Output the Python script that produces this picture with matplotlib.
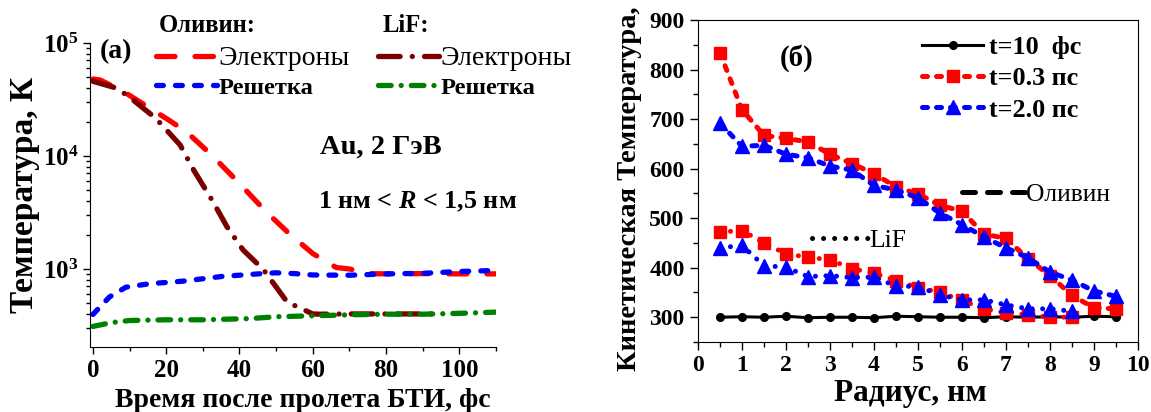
import numpy as np
import matplotlib
matplotlib.use('Agg')
import matplotlib.pyplot as plt
from matplotlib.lines import Line2D
from matplotlib.ticker import MultipleLocator, LogLocator

plt.rcParams['font.family'] = ['Liberation Serif', 'DejaVu Serif']
plt.rcParams['font.weight'] = 'bold'
plt.rcParams['mathtext.fontset'] = 'custom'
plt.rcParams['mathtext.rm'] = 'Liberation Serif:bold'
plt.rcParams['mathtext.it'] = 'Liberation Serif:italic:bold'
plt.rcParams['mathtext.bf'] = 'Liberation Serif:bold'

# ---- panel (a): temperature vs time (log scale) ----
t_ol_el = [0, 2, 5, 9, 17, 20, 25.5, 32.8, 40, 47.3, 53.6, 60, 66.4, 70, 75, 80, 90, 100, 110]
T_ol_el = [48000, 47000, 42000, 36000, 24700, 21500, 16400, 9900, 5700, 3200, 2050, 1370,
           1030, 1000, 910, 905, 910, 905, 905]

t_ol_lat = [0, 4.5, 9, 15.4, 24.5, 35.4, 46.3, 50, 55, 60, 70, 80, 90, 100, 110]
T_ol_lat = [396, 565, 690, 740, 780, 860, 910, 925, 910, 885, 880, 905, 915, 950, 970]

t_lif_el = [0, 5.6, 9.2, 16, 18.4, 23.8, 27.5, 32.5, 36.6, 41, 46.5, 53, 60, 62, 70, 80, 95]
T_lif_el = [45800, 40600, 34800, 23100, 19500, 12500, 7500, 4070, 2360, 1470, 990, 510,
            400, 398, 400, 400, 400]

t_lif_lat = [0, 5, 10, 20, 30, 43, 50, 60, 70, 80, 90, 100, 110]
T_lif_lat = [310, 335, 350, 355, 355, 364, 378, 385, 393, 398, 398, 405, 415]

# ---- panel (б): kinetic temperature vs radius ----
r_all = np.arange(0.5, 10.0, 0.5)
r_lif = np.arange(0.5, 9.0, 0.5)

T_10fs = [300, 301, 300, 302, 299, 300, 300, 299, 302, 301, 300, 300, 299, 301, 300, 301,
          300, 302, 301]
T_ol_03 = [834, 719, 667, 661, 654, 629, 610, 590, 563, 549, 526, 514, 468, 459, 418, 384,
           344, 319, 317]
T_ol_20 = [692, 645, 647, 629, 622, 605, 597, 566, 557, 541, 510, 487, 462, 440, 420, 391,
           375, 353, 342]
T_lif_03 = [472, 475, 450, 428, 421, 416, 398, 389, 374, 360, 350, 334, 317, 309, 305, 300, 300]
T_lif_20 = [440, 445, 404, 401, 382, 384, 380, 381, 363, 362, 345, 335, 335, 325, 317, 317, 312]

fig = plt.figure(figsize=(11.51, 4.12), dpi=100)
ax1 = fig.add_axes([0.0782, 0.1578, 0.3527, 0.7379])
ax2 = fig.add_axes([0.6064, 0.1699, 0.3823, 0.7816])

lw = 3.8
l_ol_el, = ax1.plot(t_ol_el, T_ol_el, color='#ff0000', lw=lw, dashes=(3.5, 3.8), dash_capstyle='round')
l_ol_lat, = ax1.plot(t_ol_lat, T_ol_lat, color='#0000ff', lw=lw, dashes=(1.3, 2.3), dash_capstyle='round')
l_lif_el, = ax1.plot(t_lif_el, T_lif_el, color='#7b0000', lw=lw, dashes=(4.1, 2.3, 0.01, 2.3),
                     dash_capstyle='round')
l_lif_lat, = ax1.plot(t_lif_lat, T_lif_lat, color='#008000', lw=lw, dashes=(2.4, 1.9, 0.01, 1.9),
                      dash_capstyle='round')

ax1.set_yscale('log')
ax1.set_ylim(204, 1e5)
ax1.set_xlim(-0.8, 110)
ax1.xaxis.set_major_locator(MultipleLocator(20))
ax1.xaxis.set_minor_locator(MultipleLocator(10))
ax1.yaxis.set_major_locator(LogLocator(base=10))
ax1.yaxis.set_minor_locator(LogLocator(base=10, subs=np.arange(2, 10)))
ax1.yaxis.set_minor_formatter(plt.NullFormatter())
ax1.spines['top'].set_visible(False)
ax1.spines['right'].set_visible(False)
ax1.tick_params(which='major', direction='out', length=5, width=1, labelsize=18)
ax1.tick_params(which='minor', direction='out', length=3, width=1)
ax1.set_xlabel('Время после пролета БТИ, фс', fontsize=20, fontweight='bold')
ax1.xaxis.set_label_coords(0.525, -0.135)
ax1.set_ylabel('Температура, К', fontsize=24, fontweight='bold')
ax1.yaxis.set_label_coords(-0.123, 0.5)

ax1.text(0.025, 0.97, '(a)', transform=ax1.transAxes, fontsize=20, fontweight='bold', va='center')
ax1.text(0.567, 0.658, 'Au, 2 ГэВ', transform=ax1.transAxes, fontsize=20.5, fontweight='bold',
         va='center')
ax1.text(0.561, 0.477, '1 нм < $R$ < 1,5 нм', transform=ax1.transAxes, fontsize=18.8,
         fontweight='bold', va='center')
ax1.text(0.170, 1.059, 'Оливин:', transform=ax1.transAxes, fontsize=17.7, fontweight='bold',
         va='center')
ax1.text(0.722, 1.059, 'LiF:', transform=ax1.transAxes, fontsize=17.7, fontweight='bold',
         va='center')


def material_legend(ax, handles, x):
    leg = ax.legend(handles, ['Электроны', 'Решетка'], loc='upper left',
                    bbox_to_anchor=(x, 0.99), frameon=False, fontsize=20,
                    handlelength=2.2, handletextpad=0.05, labelspacing=0.12,
                    borderpad=0, borderaxespad=0)
    leg.get_texts()[0].set_fontweight('normal')
    leg.get_texts()[1].set_fontsize(17.6)
    return leg


leg_ol = material_legend(ax1, [l_ol_el, l_ol_lat], 0.1626)
ax1.add_artist(leg_ol)
material_legend(ax1, [l_lif_el, l_lif_lat], 0.71)

# ---- panel (б) ----
ax2.plot(r_all, T_10fs, '-o', color='black', lw=2.2, ms=5.5, label='t=10  фс')
ax2.plot(r_all, T_ol_03, color='#ff0000', lw=3.6, dashes=(1.0, 1.8), dash_capstyle='round',
         marker='s', ms=8.5, label='t=0.3 пс')
ax2.plot(r_all, T_ol_20, color='#0000ff', lw=3.6, dashes=(1.0, 1.8), dash_capstyle='round',
         marker='^', ms=10, label='t=2.0 пс')
ax2.plot(r_lif, T_lif_03, color='#ff0000', lw=3.6, dashes=(0.01, 2.1), dash_capstyle='round',
         marker='s', ms=8.5)
ax2.plot(r_lif, T_lif_20, color='#0000ff', lw=3.6, dashes=(0.01, 2.1), dash_capstyle='round',
         marker='^', ms=10)

ax2.set_xlim(0, 10)
ax2.set_ylim(250, 900)
ax2.xaxis.set_major_locator(MultipleLocator(1))
ax2.xaxis.set_minor_locator(MultipleLocator(0.5))
ax2.yaxis.set_major_locator(MultipleLocator(100))
ax2.yaxis.set_minor_locator(MultipleLocator(50))
ax2.tick_params(which='major', direction='out', length=6, width=1, labelsize=17)
ax2.tick_params(which='minor', direction='out', length=3.5, width=1)
ax2.set_xlabel('Радиус, нм', fontsize=22.6, fontweight='bold')
ax2.xaxis.set_label_coords(0.482, -0.115)
ax2.set_ylabel('Кинетическая Температура,', fontsize=20.5, fontweight='bold')
ax2.yaxis.set_label_coords(-0.127, 0.475)
ax2.text(0.186, 0.882, '(б)', transform=ax2.transAxes, fontsize=20.8, fontweight='bold', va='center')

leg_t = ax2.legend(loc='upper left', bbox_to_anchor=(0.509, 0.95), frameon=False,
                   prop={'weight': 'bold', 'size': 18.8}, handlelength=2.35, handletextpad=0.2,
                   labelspacing=0.3, numpoints=1, borderpad=0, borderaxespad=0)
ax2.add_artist(leg_t)
h_ol = Line2D([], [], color='black', lw=3.6, dashes=(2.6, 2.4), dash_capstyle='round')
leg_mat = ax2.legend([h_ol], ['Оливин'], loc='center left', bbox_to_anchor=(0.6, 0.4565),
                     frameon=False, prop={'weight': 'normal', 'size': 18.4}, handlelength=2.46,
                     handletextpad=0.05, borderpad=0, borderaxespad=0)
ax2.add_artist(leg_mat)
h_lif = Line2D([], [], color='black', lw=3.6, dashes=(0.01, 2.2), dash_capstyle='round')
ax2.legend([h_lif], ['LiF'], loc='center left', bbox_to_anchor=(0.259, 0.3137),
           frameon=False, prop={'weight': 'normal', 'size': 18.4}, handlelength=2.2,
           handletextpad=0.05, borderpad=0, borderaxespad=0)

fig.savefig('out.png', dpi=100)
